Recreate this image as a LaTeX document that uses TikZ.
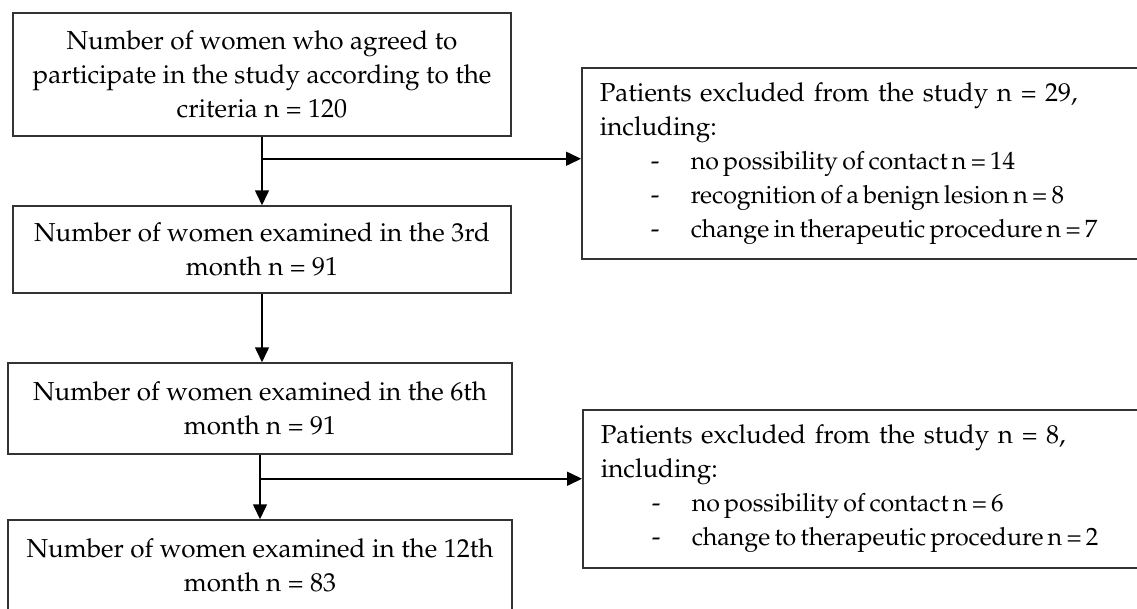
\documentclass[tikz,border=0pt]{standalone}
\usepackage[T1]{fontenc}
\usepackage{mathpazo}
\usetikzlibrary{arrows.meta,positioning,calc}
\definecolor{boxline}{HTML}{333333}
\newcommand{\exitem}[1]{\\\hspace*{51pt}\makebox[40pt][l]{-}{\fontsize{25}{34}\selectfont\spaceskip=0.17em\relax #1}}

\begin{document}
\begin{tikzpicture}[x=1pt,y=-1pt,
  font=\fontsize{26}{34}\selectfont,
  stage/.style={draw=boxline, line width=1.5pt, align=center, inner sep=0pt},
  excl/.style={draw=boxline, line width=1.5pt, align=left, anchor=north west,
    inner xsep=18pt, inner ysep=0pt, text width=560pt, minimum height=#1},
  flow/.style={line width=1.6pt, -{Triangle[length=15pt,width=14pt]}}]
\useasboundingbox (0,0) rectangle (1137,608);

% stages of the study
\node[stage, minimum width=498pt, minimum height=123pt] (agreed) at (262,74.5)
  {Number of women who agreed to\\participate in the study according to the\\criteria n = 120};
\node[stage, minimum width=498pt, minimum height=87pt] (month3) at (262,249.5)
  {Number of women examined in the 3rd\\month n = 91};
\node[stage, minimum width=504pt, minimum height=91pt] (month6) at (260,408.5)
  {Number of women examined in the 6th\\month n = 91};
\node[stage, minimum width=504pt, minimum height=91pt] (month12) at (260,565.5)
  {Number of women examined in the 12th\\month n = 83};

% excluded patients
\node[excl=191pt] (drop1) at (581,67)
  {Patients excluded from the study n = 29,\\including:
   \exitem{no possibility of contact n = 14}
   \exitem{recognition of a benign lesion n = 8}
   \exitem{change in therapeutic procedure n = 7}};
\node[excl=158pt] (drop2) at (582,409)
  {Patients excluded from the study n = 8,\\including:
   \exitem{no possibility of contact n = 6}
   \exitem{change to therapeutic procedure n = 2}};

% connectors
\coordinate (split1) at ($(agreed.south)+(0,22)$);
\coordinate (split2) at ($(month6.south)+(0,24)$);
\draw[flow] (agreed.south) -- (month3.north);
\draw[flow] (split1) -- (split1 -| drop1.west);
\draw[flow] (month3.south) -- (month3.south |- month6.north);
\draw[flow] (month6.south) -- (month6.south |- month12.north);
\draw[flow] (split2) -- (split2 -| drop2.west);
\end{tikzpicture}
\end{document}
